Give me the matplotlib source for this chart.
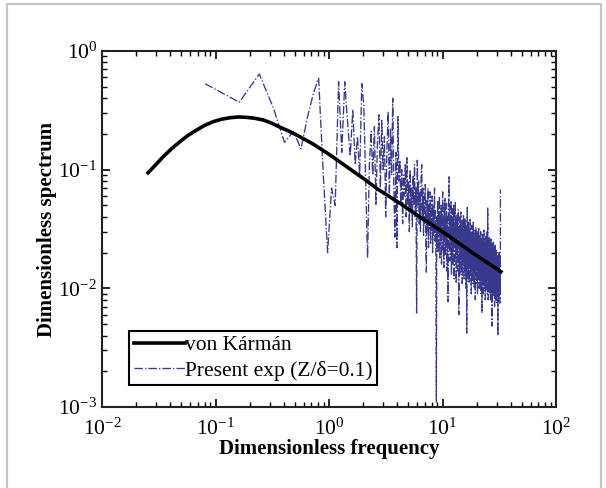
import numpy as np
import matplotlib
matplotlib.use("Agg")
import matplotlib.pyplot as plt
from matplotlib.patches import Rectangle

plt.rcParams['font.family'] = ['Liberation Serif', 'DejaVu Serif']
plt.rcParams['mathtext.default'] = 'regular'

# von Karman curve
vk_freq = [0.0254, 0.030, 0.0347, 0.041, 0.0486, 0.057, 0.0683, 0.080, 0.0957,
           0.113, 0.134, 0.160, 0.188, 0.222, 0.264, 0.31, 0.37, 0.44, 0.519,
           0.728, 1.02, 1.43, 2.0, 2.72, 4.23, 6.3, 9.5, 11.6, 18.7, 32.7]
vk_spec = [0.094, 0.111, 0.129, 0.150, 0.172, 0.194, 0.216, 0.236, 0.254,
           0.266, 0.274, 0.278, 0.276, 0.271, 0.262, 0.247, 0.228, 0.212, 0.196,
           0.164, 0.133, 0.106, 0.0845, 0.068, 0.052, 0.040, 0.031, 0.0272,
           0.0197, 0.0138]

# measured spectrum, one value per frequency bin
df = 0.081
exp_spec = [
    0.53, 0.37, 0.64, 0.33, 0.17, 0.21, 0.15, 0.28, 0.44, 0.59,
    0.09, 0.02, 0.07, 0.05, 0.55, 0.14, 0.55, 0.25, 0.13, 0.32,
    0.11, 0.19, 0.09, 0.53, 0.35, 0.08, 0.018, 0.11, 0.21, 0.09,
    0.23, 0.05, 0.17, 0.29, 0.07, 0.26, 0.10, 0.19, 0.04, 0.15,
    0.31, 0.06, 0.22, 0.09, 0.40, 0.07, 0.027, 0.14, 0.022, 0.28,
    0.08, 0.12, 0.05, 0.10, 0.035, 0.09, 0.06, 0.11, 0.04, 0.126,
    0.05, 0.08, 0.03, 0.10, 0.045, 0.07, 0.033, 0.09, 0.05, 0.11,
    0.04, 0.07, 0.0062, 0.12, 0.05, 0.08, 0.035, 0.065, 0.03, 0.09,
    0.11, 0.04, 0.07, 0.028, 0.06, 0.035, 0.075, 0.025, 0.0137, 0.055,
    0.03, 0.07, 0.022, 0.05, 0.032, 0.065, 0.024, 0.045, 0.03, 0.06,
    0.02, 0.05, 0.028, 0.04, 0.07, 0.025, 0.045, 0.018, 0.0011, 0.04,
    0.025, 0.055, 0.02, 0.045, 0.03, 0.06, 0.018, 0.04, 0.026, 0.05,
    0.016, 0.042, 0.028, 0.065, 0.021, 0.038, 0.015, 0.048, 0.03, 0.058,
    0.019, 0.036, 0.024, 0.052, 0.014, 0.04, 0.027, 0.0077, 0.035, 0.06,
    0.087, 0.022, 0.044, 0.017, 0.038, 0.025, 0.055, 0.013, 0.034, 0.028,
    0.047, 0.016, 0.039, 0.022, 0.05, 0.012, 0.033, 0.026, 0.045, 0.053,
    0.018, 0.036, 0.011, 0.03, 0.042, 0.02, 0.037, 0.014, 0.028, 0.046,
    0.017, 0.006, 0.032, 0.024, 0.04, 0.013, 0.029, 0.021, 0.044, 0.015,
    0.035, 0.019, 0.027, 0.011, 0.038, 0.023, 0.031, 0.016, 0.042, 0.02,
    0.012, 0.034, 0.025, 0.017, 0.039, 0.014, 0.028, 0.022, 0.01, 0.033,
    0.019, 0.0042, 0.026, 0.048, 0.015, 0.031, 0.021, 0.012, 0.036, 0.018,
    0.027, 0.011, 0.032, 0.02, 0.015, 0.038, 0.013, 0.024, 0.017, 0.03,
    0.009, 0.026, 0.019, 0.034, 0.014, 0.022, 0.011, 0.029, 0.016, 0.036,
    0.012, 0.025, 0.018, 0.031, 0.01, 0.023, 0.015, 0.028, 0.02, 0.008,
    0.027, 0.013, 0.033, 0.017, 0.022, 0.011, 0.026, 0.015, 0.03, 0.019,
    0.009, 0.024, 0.014, 0.029, 0.018, 0.012, 0.032, 0.016, 0.021, 0.01,
    0.025, 0.013, 0.028, 0.017, 0.011, 0.023, 0.015, 0.03, 0.009, 0.02,
    0.014, 0.026, 0.012, 0.019, 0.0062, 0.024, 0.016, 0.029, 0.011, 0.021,
    0.013, 0.027, 0.009, 0.018, 0.023, 0.012, 0.031, 0.015, 0.02, 0.01,
    0.024, 0.014, 0.017, 0.008, 0.022, 0.013, 0.028, 0.011, 0.019, 0.016,
    0.026, 0.01, 0.021, 0.014, 0.03, 0.009, 0.018, 0.012, 0.048, 0.015,
    0.022, 0.008, 0.019, 0.013, 0.025, 0.011, 0.017, 0.021, 0.009, 0.027,
    0.014, 0.018, 0.01, 0.023, 0.012, 0.016, 0.008, 0.02, 0.013, 0.026,
    0.011, 0.017, 0.0093, 0.022, 0.012, 0.019, 0.0048, 0.015, 0.024, 0.01,
    0.018, 0.013, 0.021, 0.0085, 0.016, 0.011, 0.025, 0.012, 0.019, 0.009,
    0.014, 0.022, 0.01, 0.017, 0.007, 0.02, 0.012, 0.015, 0.009, 0.023,
    0.011, 0.016, 0.008, 0.019, 0.013, 0.01, 0.021, 0.0075, 0.015, 0.012,
    0.018, 0.0095, 0.014, 0.02, 0.0085, 0.016, 0.011, 0.017, 0.007, 0.004,
    0.013, 0.019, 0.009, 0.015, 0.011, 0.018, 0.008, 0.014, 0.012, 0.02,
    0.0095, 0.016, 0.011, 0.013, 0.0075, 0.017, 0.01, 0.012, 0.009, 0.068,
]
exp_freq = df * np.arange(1, len(exp_spec) + 1)

fig = plt.figure(figsize=(6.06, 4.88), dpi=100)
fig.patches.append(Rectangle((7 / 606, -10 / 488), 594 / 606, 494 / 488,
                             transform=fig.transFigure, fill=False,
                             edgecolor='#c4c4c4', lw=1.6))
ax = fig.add_axes([102 / 606, 1 - 407 / 488, 454 / 606, 356 / 488])

ax.loglog(exp_freq, exp_spec, linestyle='-.', color='#38388c', lw=0.95,
          label='Present exp (Z/δ=0.1)', zorder=2)
ax.loglog(vk_freq, vk_spec, color='black', lw=2.6, label='von Kármán', zorder=3)

ax.set_xlim(1e-2, 1e2)
ax.set_ylim(1e-3, 1e0)
ax.set_xlabel('Dimensionless frequency', fontsize=15, fontweight='bold', labelpad=0)
ax.set_ylabel('Dimensionless spectrum', fontsize=15, fontweight='bold', labelpad=1)

ax.tick_params(which='both', direction='in', top=True, right=True, labelsize=15.5)
ax.tick_params(axis='x', pad=8)
ax.tick_params(which='major', length=6, width=1.2)
ax.tick_params(which='minor', length=3.5, width=1.0)
for s in ax.spines.values():
    s.set_linewidth(1.5)
    s.set_color('#222222')

h, l = ax.get_legend_handles_labels()
leg = ax.legend(h[::-1], l[::-1], loc='lower left', bbox_to_anchor=(0.06, 0.062),
                fontsize=15.5, fancybox=False, edgecolor='black', framealpha=1,
                borderaxespad=0, handlelength=2.4, handletextpad=0.0,
                borderpad=0.2, labelspacing=0.25)
leg.get_frame().set_linewidth(1.5)

fig.savefig('out.png', dpi=100)
